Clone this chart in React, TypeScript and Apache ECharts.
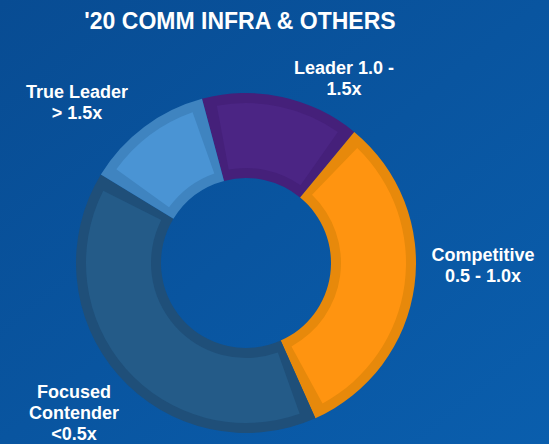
import React, { useEffect, useRef } from "react";
import * as echarts from "echarts";

const TITLE = "'20 COMM INFRA & OTHERS";
const categories = ["Leader 1.0 -\n1.5x", "Competitive\n0.5 - 1.0x", "Focused\nContender\n<0.5x", "True Leader\n> 1.5x"];
const shares = [15, 32, 40, 12];
const fillColors = ["#4B2584", "#FF9410", "#245B88", "#4A94D4"];
const bandColors = ["#45207A", "#E7890B", "#1F4F79", "#3F84C0"];
const labelSpots = [
  [344, 78],
  [483, 265],
  [74, 413],
  [77, 102],
];

export default function App() {
  const ref = useRef<HTMLDivElement>(null);
  useEffect(() => {
    if (!ref.current) return;
    const chart = echarts.init(ref.current, null, { renderer: "svg" });
    const center = [246, 263];
    chart.setOption({
      animation: false,
      backgroundColor: new echarts.graphic.LinearGradient(0, 0, 1, 1, [
        { offset: 0, color: "#084C93" },
        { offset: 1, color: "#0A5EAD" },
      ]),
      title: {
        text: TITLE,
        left: 235,
        top: 4,
        textAlign: "center",
        textStyle: {
          color: "#FFFFFF",
          fontFamily: "Liberation Sans, Arial, sans-serif",
          fontWeight: "bold",
          fontSize: 23,
        },
      },
      series: [
        {
          type: "pie",
          center,
          radius: [85, 170],
          startAngle: 105,
          clockwise: true,
          silent: true,
          data: categories.map((name, i) => ({
            name,
            value: shares[i],
            itemStyle: { color: bandColors[i] },
          })),
          label: {
            show: true,
            position: "outside",
            formatter: "{b}",
            color: "#FFFFFF",
            fontFamily: "Liberation Sans, Arial, sans-serif",
            fontWeight: "bold",
            fontSize: 18,
            lineHeight: 21,
            align: "center",
            overflow: "none",
            width: 200,
            edgeDistance: 0,
          },
          labelLine: { show: false },
          labelLayout: (params: any) => ({
            x: labelSpots[params.dataIndex][0],
            y: labelSpots[params.dataIndex][1],
            align: "center",
            verticalAlign: "middle",
          }),
        },
        {
          type: "pie",
          center,
          radius: [95, 160],
          startAngle: 105,
          clockwise: true,
          padAngle: 9,
          silent: true,
          label: { show: false },
          labelLine: { show: false },
          data: categories.map((name, i) => ({
            name,
            value: shares[i],
            itemStyle: { color: fillColors[i] },
          })),
        },
      ],
    });
    return () => chart.dispose();
  }, []);
  return (
    <div
      ref={ref}
      style={{ position: "fixed", left: 0, top: 0, width: 549, height: 444 }}
    />
  );
}
